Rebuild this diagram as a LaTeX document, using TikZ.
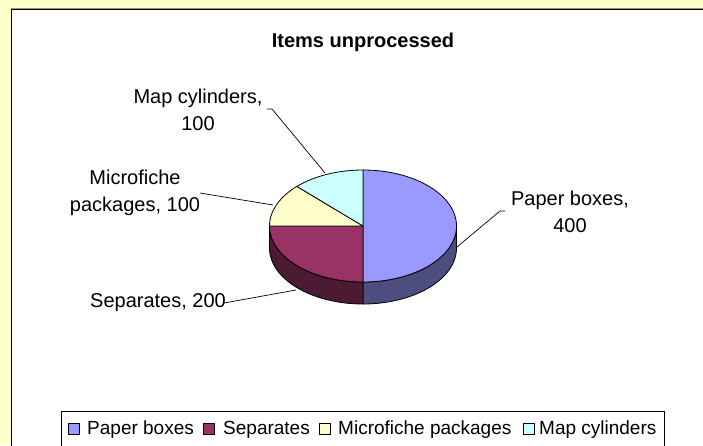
\documentclass[tikz,border=0pt]{standalone}
\usepackage{fontspec}
\setmainfont{Liberation Sans}
\definecolor{bgyellow}{HTML}{FFFFCC}
\definecolor{olivel}{HTML}{999966}
\definecolor{paper}{HTML}{9999FF}
\definecolor{paperside}{HTML}{4D4D80}
\definecolor{sep}{HTML}{993366}
\definecolor{sepside}{HTML}{4D1A33}
\definecolor{micro}{HTML}{FFFFCC}
\definecolor{mapc}{HTML}{CCFFFF}
\def\pcx{363}\def\pcy{226}\def\prx{93.5}\def\pry{56}\def\pdep{22}
\begin{document}
\begin{tikzpicture}[x=1pt,y=-1pt,
  lbl/.style={font=\fontsize{20}{27}\selectfont, align=center, inner sep=0pt},
  leg/.style={font=\fontsize{19}{22}\selectfont, anchor=base west, inner sep=0pt},
  leader/.style={draw=black, line width=0.7pt},
  edge/.style={draw=black, line width=0.8pt, line join=round},
  mk/.style={draw=black, line width=0.6pt, minimum size=11pt, inner sep=0pt}]
\useasboundingbox (0,0) rectangle (703,445);
\clip (0,0) rectangle (703,445);
\fill[bgyellow] (0,0) rectangle (703,445);
\fill[white] (11.5,9.5) rectangle (710,450);
\draw[olivel, line width=1pt] (11,8) -- (710,8);
\draw[line width=1.5pt] (11.5,450) -- (11.5,9.5) -- (710,9.5);
% title
\node[font=\bfseries\fontsize{20}{24}\selectfont, anchor=base, inner sep=0pt] (title) at (363,47) {Items unprocessed};
% pie sides
\filldraw[edge, fill=paperside] plot[variable=\t, domain=0:90, samples=46] ({\pcx+\prx*cos(\t)},{\pcy+\pry*sin(\t)}) -- plot[variable=\t, domain=90:0, samples=46] ({\pcx+\prx*cos(\t)},{\pcy+\pdep+\pry*sin(\t)}) -- cycle;
\filldraw[edge, fill=sepside] plot[variable=\t, domain=90:180, samples=46] ({\pcx+\prx*cos(\t)},{\pcy+\pry*sin(\t)}) -- plot[variable=\t, domain=180:90, samples=46] ({\pcx+\prx*cos(\t)},{\pcy+\pdep+\pry*sin(\t)}) -- cycle;
% pie tops
\filldraw[edge, fill=paper] (\pcx,\pcy) -- plot[variable=\t, domain=-90:90, samples=91] ({\pcx+\prx*cos(\t)},{\pcy+\pry*sin(\t)}) -- cycle;
\filldraw[edge, fill=sep] (\pcx,\pcy) -- plot[variable=\t, domain=90:180, samples=46] ({\pcx+\prx*cos(\t)},{\pcy+\pry*sin(\t)}) -- cycle;
\filldraw[edge, fill=micro] (\pcx,\pcy) -- plot[variable=\t, domain=180:225, samples=24] ({\pcx+\prx*cos(\t)},{\pcy+\pry*sin(\t)}) -- cycle;
\filldraw[edge, fill=mapc] (\pcx,\pcy) -- plot[variable=\t, domain=225:270, samples=24] ({\pcx+\prx*cos(\t)},{\pcy+\pry*sin(\t)}) -- cycle;
% labels
\node[lbl] (lMap) at (198,110) {Map cylinders,\\100};
\node[lbl] (lMicro) at (135,193) {Microfiche\\packages, 100};
\node[lbl, anchor=base] (lSep) at (158,307) {Separates, 200};
\node[lbl] (lPaper) at (570,212) {Paper boxes,\\400};
% leader end points
\coordinate (mapA) at (267,109); \coordinate (mapB) at (272,109); \coordinate (mapC) at (325,173);
\coordinate (micA) at (200,193); \coordinate (micC) at (273,205);
\coordinate (sepA) at (224,303); \coordinate (sepC) at (296,290);
\coordinate (papA) at (505,211); \coordinate (papB) at (500,211); \coordinate (papC) at (457,247);
\draw[leader] (mapA) -- (mapB) -- (mapC);
\draw[leader] (micA) -- (micC);
\draw[leader] (sepA) -- (sepC);
\draw[leader] (papA) -- (papB) -- (papC);
% legend
\draw[line width=0.8pt, fill=white] (61,411) rectangle (664,460);
\node[mk, fill=paper] (m1) at (74,428.5) {};
\node[leg] (t1) at (87,434) {Paper boxes};
\node[mk, fill=sep] (m2) at (209,428.5) {};
\node[leg] (t2) at (223,434) {Separates};
\node[mk, fill=micro] (m3) at (325,428.5) {};
\node[leg] (t3) at (338,434) {Microfiche packages};
\node[mk, fill=mapc] (m4) at (528.5,428.5) {};
\node[leg] (t4) at (539,434) {Map cylinders};
\end{tikzpicture}
\end{document}
